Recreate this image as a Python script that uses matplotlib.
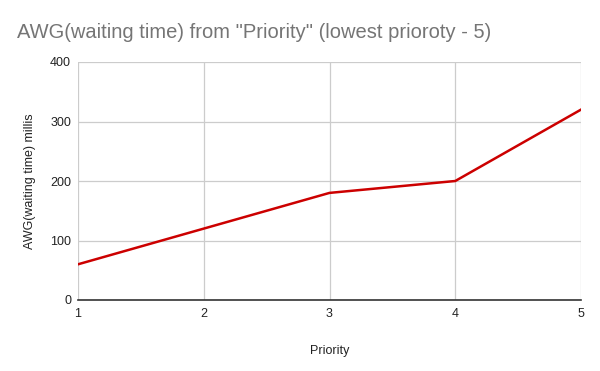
import matplotlib
matplotlib.use("Agg")
import matplotlib.pyplot as plt

# data
priority = [1, 2, 3, 4, 5]
awg_millis = [60, 120, 180, 200, 320]
y_ticks = [0, 100, 200, 300, 400]

plt.rcParams['font.family'] = ['Liberation Sans', 'DejaVu Sans']

fig = plt.figure(figsize=(6, 3.71), dpi=100)
ax = fig.add_axes([78 / 600, 1 - 300 / 371, (581 - 78) / 600, (300 - 62) / 371])

ax.plot(priority, awg_millis, color='#cc0000', linewidth=1.8, solid_joinstyle='round')

ax.set_xlim(1, 5)
ax.set_ylim(0, 400)
ax.set_xticks(priority)
ax.set_yticks(y_ticks)
ax.grid(True, color='#cccccc', linewidth=0.9)
ax.set_axisbelow(True)

for s in ['top', 'right', 'left']:
    ax.spines[s].set_visible(False)
ax.spines['bottom'].set_color('#333333')
ax.spines['bottom'].set_linewidth(1.2)
ax.spines['bottom'].set_zorder(3)

ax.tick_params(length=0, labelsize=9, colors='#222222', pad=5)
ax.tick_params(axis='x', pad=6)

ax.set_xlabel('Priority', fontsize=9, color='#222222', labelpad=18)
ax.set_ylabel('AWG(waiting time) millis', fontsize=9, color='#222222', labelpad=10)

fig.text(17 / 600, 1 - 33 / 371, 'AWG(waiting time) from "Priority" (lowest prioroty - 5)',
         fontsize=14.5, color='#757575', va='center', ha='left')

fig.savefig('out.png', dpi=100)
